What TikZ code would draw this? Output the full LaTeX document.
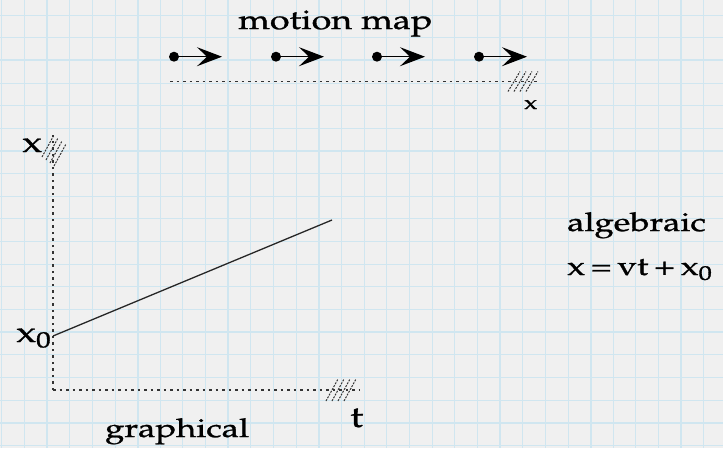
\documentclass[tikz,border=0pt]{standalone}
\usepackage[T1]{fontenc}
\usepackage{mathpazo}
\usetikzlibrary{arrows.meta}
\definecolor{paper}{RGB}{240,240,240}
\definecolor{gridblue}{RGB}{208,230,240}
\newcommand\hs[1]{\special{pdf:literal direct 2 Tr 0.25 w}\scalebox{1.33}[1]{#1}\special{pdf:literal direct 0 Tr 1 w}}
\tikzset{
  lbl/.style={inner sep=0pt, anchor=base west, font=\fontsize{26}{30}\selectfont},
  axisln/.style={line width=1.3pt, black!80, dash pattern=on 2.5pt off 4pt},
  hatchln/.style={line width=1pt, black!80, dash pattern=on 2pt off 1.2pt},
  dotnode/.style={circle, fill=black, inner sep=0pt, minimum size=10pt},
  mmarrow/.style={line width=1.5pt, -{Stealth[length=25pt,width=19pt,inset=10pt]}},
  graphln/.style={line width=1.3pt, black!85},
}
\begin{document}
\begin{tikzpicture}[x=1pt,y=-1pt]
\fill[paper] (0,0) rectangle (723,448);
\useasboundingbox (0,0) rectangle (723,448);
% grid paper
\foreach \i in {0,...,31}{
  \pgfmathsetmacro\lw{mod(\i,4)==2 ? 1.8 : 0.9}
  \draw[gridblue, line width=\lw pt] (1.7+22.65*\i,0) -- (1.7+22.65*\i,448);
}
\foreach \j in {0,...,19}{
  \pgfmathsetmacro\lw{mod(\j,4)==2 ? 1.8 : 0.9}
  \draw[gridblue, line width=\lw pt] (0,15+22.65*\j) -- (723,15+22.65*\j);
}
% motion map
\node[lbl, font=\fontsize{27}{30}\selectfont] (mmt) at (238,29) {\hs{motion map}};
\foreach \k/\xx in {1/174,2/276,3/377,4/479}{
  \node[dotnode] (d\k) at (\xx,56.7) {};
  \coordinate (a\k) at (\xx+48,56.7);
  \draw[mmarrow] (d\k.center) -- (a\k);
}
\coordinate (ms) at (170,81.5);
\coordinate (me) at (537,81.5);
\draw[axisln] (ms) -- (me);
\foreach \hx in {514,520,526,532}{
  \draw[hatchln] (\hx-6,81.5+10) -- (\hx+6,81.5-10);
}
\node[lbl, font=\fontsize{19}{20}\selectfont] (mx) at (524,109) {\hs{x}};
% graph
\coordinate (O) at (53,390);
\coordinate (Y) at (53,135);
\coordinate (T) at (360,390);
\draw[axisln] (O) -- (Y);
\draw[axisln] (O) -- (T);
\foreach \hx in {332,338,344,350}{
  \draw[hatchln] (\hx-6,390+11) -- (\hx+6,390-11);
}
\foreach \hx/\hy in {48/146,52/149,56/152,60/155}{
  \draw[hatchln] (\hx-6,\hy+11) -- (\hx+6,\hy-11);
}
\coordinate (G0) at (53,336);
\coordinate (G1) at (332,220);
\draw[graphln] (G0) -- (G1);
\node[lbl, font=\fontsize{29}{32}\selectfont] (xl) at (22,152) {\hs{x}};
\node[lbl, font=\fontsize{29}{32}\selectfont] (x0l) at (16,342) {\hs{x\textsubscript{0}}};
\node[lbl, font=\fontsize{30}{32}\selectfont] (tl) at (350,427) {\hs{t}};
\node[lbl, font=\fontsize{26}{32}\selectfont] (gl) at (105,437) {\hs{graphical}};
% algebraic
\node[lbl] (al) at (567,231) {\hs{algebraic}};
\node[lbl] (eq) at (567,275) {\hs{x\,=\,vt\,+\,x\textsubscript{0}}};
\end{tikzpicture}
\end{document}
